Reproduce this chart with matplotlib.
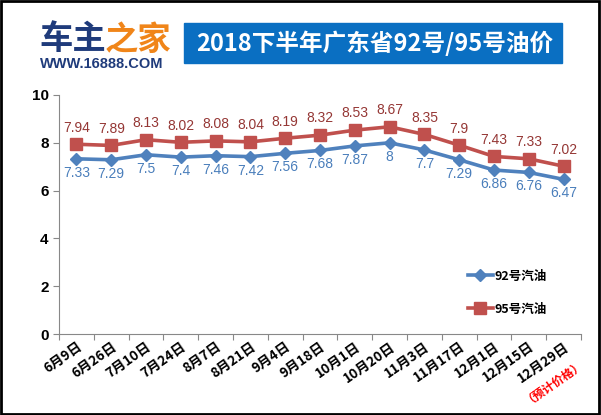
import matplotlib
matplotlib.use('Agg')
import matplotlib.pyplot as plt
from matplotlib.patches import Rectangle

plt.rcParams['font.family'] = ['Noto Sans CJK SC', 'DejaVu Sans']

# data
dates = ['6月9日', '6月26日', '7月10日', '7月24日', '8月7日', '8月21日', '9月4日',
         '9月18日', '10月1日', '10月20日', '11月3日', '11月17日', '12月1日',
         '12月15日', '12月29日']
price_92 = [7.33, 7.29, 7.5, 7.4, 7.46, 7.42, 7.56, 7.68, 7.87, 8, 7.7, 7.29, 6.86, 6.76, 6.47]
price_95 = [7.94, 7.89, 8.13, 8.02, 8.08, 8.04, 8.19, 8.32, 8.53, 8.67, 8.35, 7.9, 7.43, 7.33, 7.02]
labels_92 = ['7.33', '7.29', '7.5', '7.4', '7.46', '7.42', '7.56', '7.68', '7.87', '8',
             '7.7', '7.29', '6.86', '6.76', '6.47']
labels_95 = ['7.94', '7.89', '8.13', '8.02', '8.08', '8.04', '8.19', '8.32', '8.53', '8.67',
             '8.35', '7.9', '7.43', '7.33', '7.02']

blue = '#4F81BD'
red = '#C0504D'

fig = plt.figure(figsize=(6.01, 4.15), dpi=100)
ax = fig.add_axes([59/601, 1 - 334/415, (581 - 59)/601, (334 - 95)/415])

x = list(range(len(dates)))
ax.plot(x, price_92, color=blue, lw=2.6, marker='D', ms=6, label='92号汽油', zorder=3)
ax.plot(x, price_95, color=red, lw=2.6, marker='s', ms=8.5, label='95号汽油', zorder=3)

for i in x:
    ax.annotate(labels_95[i], (i, price_95[i]), xytext=(0, 12), textcoords='offset points',
                ha='center', va='center', fontsize=10, color='#953735', family='Liberation Sans')
    ax.annotate(labels_92[i], (i, price_92[i]), xytext=(0, -10), textcoords='offset points',
                ha='center', va='center', fontsize=10, color='#4A7EBB', family='Liberation Sans')

ax.set_xlim(-0.5, len(dates) - 0.5)
ax.set_ylim(0, 10)
ax.set_yticks([0, 2, 4, 6, 8, 10])
ax.set_yticklabels(['0', '2', '4', '6', '8', '10'], fontsize=11, fontweight='bold',
                   family='Liberation Sans')
ax.set_xticks([i - 0.5 for i in range(len(dates) + 1)])
ax.set_xticklabels([])
ax.set_xticks(x, minor=True)
ax.set_xticklabels(dates, minor=True, rotation=35, ha='right', rotation_mode='anchor',
                   fontsize=9.8, fontweight='bold')
ax.tick_params(axis='x', which='minor', length=0, pad=4)
ax.tick_params(axis='x', which='major', length=4, color='#888888')
ax.tick_params(axis='y', length=4, color='#888888')
for s in ['top', 'right']:
    ax.spines[s].set_visible(False)
for s in ['left', 'bottom']:
    ax.spines[s].set_color('#888888')

ax.annotate('（预计价格）', (14, 0), xytext=(10, -15), textcoords='offset points',
            rotation=35, ha='right', va='top', rotation_mode='anchor', fontsize=8.5,
            fontweight='bold', color='#FF0000', annotation_clip=False)

leg = ax.legend(loc='lower right', bbox_to_anchor=(0.955, 0.03), frameon=False,
                prop={'weight': 'bold', 'size': 9}, handlelength=2.0, labelspacing=1.6,
                handletextpad=0.1)

# header: logo and title banner
fig.text(39/601, 1 - 40/415, '车主', fontsize=24, fontweight='black', color='#1F3B7B', va='center')
fig.text(105/601, 1 - 40/415, '之家', fontsize=24, fontweight='black', color='#F08519', va='center')
fig.text(40/601, 1 - 64/415, 'WWW.16888.COM', fontsize=10.5, fontweight='bold', color='#1F3B7B',
         va='center', family='Liberation Sans')
fig.patches.append(Rectangle((184/601, 1 - 63/415), (562 - 184)/601, 40/415,
                             transform=fig.transFigure, color='#0A6FC2', zorder=0))
fig.text(375/601, 1 - 43/415, '2018下半年广东省92号/95号油价', fontsize=17, fontweight='bold',
         color='white', ha='center', va='center')

# outer frame
fig.patches.append(Rectangle((0.002, 0.003), 0.995, 0.994, transform=fig.transFigure,
                             fill=False, ec='black', lw=2))

fig.savefig('out.png', dpi=100)
